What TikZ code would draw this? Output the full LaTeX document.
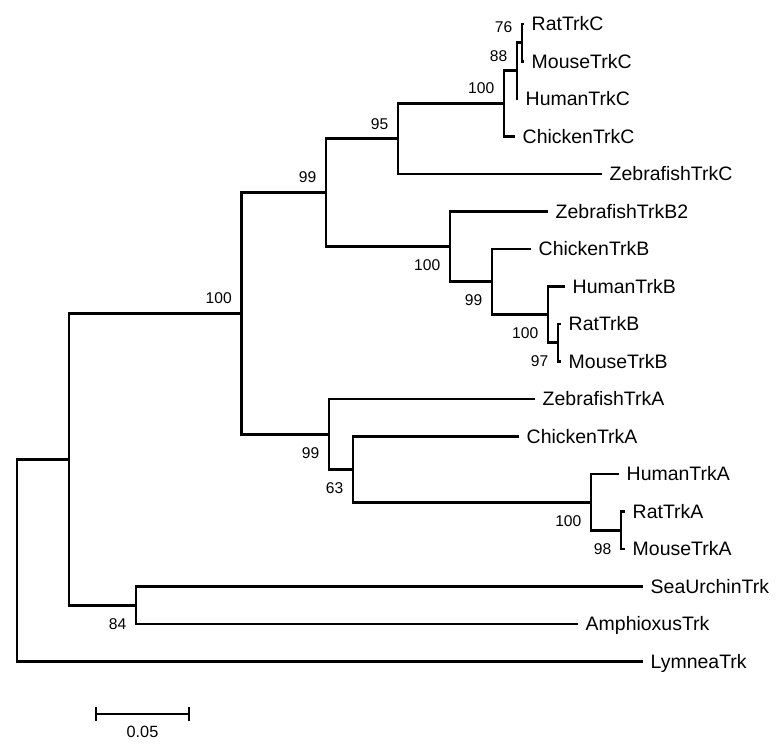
\documentclass[tikz,border=0pt]{standalone}
\usepackage{fontspec}
\setmainfont{Liberation Sans}
\usetikzlibrary{positioning, calc}

\begin{document}
\begin{tikzpicture}[
        x=0.75pt, y=-0.75pt,
        branch/.style={line width=2.2pt},
        scalebar/.style={line width=1.4pt},
        leaf/.style={anchor=base west, inner sep=0pt, xshift=5.6pt, yshift=-5.2pt, font=\fontsize{14.6pt}{17pt}\selectfont},
        bsup/.style={anchor=east, inner sep=0pt, xshift=-7.1pt, yshift=11.4pt, font=\fontsize{11.7pt}{14pt}\selectfont},
        bsdn/.style={anchor=east, inner sep=0pt, xshift=-7.1pt, yshift=-13.9pt, font=\fontsize{11.7pt}{14pt}\selectfont}
    ]
    \path[use as bounding box, fill=white] (0,0) rectangle (780,749);

    \coordinate (tRatC) at (524,24);
    \coordinate (tMouseC) at (524,61.5);
    \coordinate (tHumanC) at (518,99);
    \coordinate (tChickenC) at (515,136.5);
    \coordinate (tZebraC) at (602,174);
    \coordinate (tZebraB2) at (548,211.5);
    \coordinate (tChickenB) at (531,249);
    \coordinate (tHumanB) at (565,286.5);
    \coordinate (tRatB) at (561,324);
    \coordinate (tMouseB) at (561,361.5);
    \coordinate (tZebraA) at (535,399);
    \coordinate (tChickenA) at (519,436.5);
    \coordinate (tHumanA) at (619,474);
    \coordinate (tRatA) at (625,511.5);
    \coordinate (tMouseA) at (625,549);
    \coordinate (tUrchin) at (643,586.5);
    \coordinate (tAmphi) at (578,624);
    \coordinate (tLymnea) at (643,661.5);

    \coordinate (G) at (522,42.75);
    \coordinate (F) at (517,70.88);
    \coordinate (E) at (504,103.69);
    \coordinate (D) at (398,138.84);
    \coordinate (K) at (558,342.75);
    \coordinate (J) at (548,314.63);
    \coordinate (I) at (492,281.81);
    \coordinate (H) at (450,246.66);
    \coordinate (C) at (326,192.75);
    \coordinate (O) at (621,530.25);
    \coordinate (N) at (591,502.13);
    \coordinate (M) at (353,469.31);
    \coordinate (L) at (329,434.16);
    \coordinate (B) at (241.5,313.45);
    \coordinate (SA) at (136,605.25);
    \coordinate (A) at (69,459.35);
    \coordinate (root) at (17,560.43);

    \node[leaf] (ratC) at (tRatC) {RatTrkC};
    \node[leaf] (mouseC) at (tMouseC) {MouseTrkC};
    \node[leaf] (humanC) at (tHumanC) {HumanTrkC};
    \node[leaf] (chickenC) at (tChickenC) {ChickenTrkC};
    \node[leaf] (zebraC) at (tZebraC) {ZebrafishTrkC};
    \node[leaf] (zebraB2) at (tZebraB2) {ZebrafishTrkB2};
    \node[leaf] (chickenB) at (tChickenB) {ChickenTrkB};
    \node[leaf] (humanB) at (tHumanB) {HumanTrkB};
    \node[leaf] (ratB) at (tRatB) {RatTrkB};
    \node[leaf] (mouseB) at (tMouseB) {MouseTrkB};
    \node[leaf] (zebraA) at (tZebraA) {ZebrafishTrkA};
    \node[leaf] (chickenA) at (tChickenA) {ChickenTrkA};
    \node[leaf] (humanA) at (tHumanA) {HumanTrkA};
    \node[leaf] (ratA) at (tRatA) {RatTrkA};
    \node[leaf] (mouseA) at (tMouseA) {MouseTrkA};
    \node[leaf] (urchin) at (tUrchin) {SeaUrchinTrk};
    \node[leaf] (amphi) at (tAmphi) {AmphioxusTrk};
    \node[leaf] (lymnea) at (tLymnea) {LymneaTrk};

    \draw[branch] (tRatC) -| (G) |- (tMouseC);
    \draw[branch] (G) -| (F) |- (tHumanC);
    \draw[branch] (F) -| (E) |- (tChickenC);
    \draw[branch] (E) -| (D) |- (tZebraC);
    \draw[branch] (tRatB) -| (K) |- (tMouseB);
    \draw[branch] (tHumanB) -| (J) |- (K);
    \draw[branch] (tChickenB) -| (I) |- (J);
    \draw[branch] (tZebraB2) -| (H) |- (I);
    \draw[branch] (D) -| (C) |- (H);
    \draw[branch] (tRatA) -| (O) |- (tMouseA);
    \draw[branch] (tHumanA) -| (N) |- (O);
    \draw[branch] (tChickenA) -| (M) |- (N);
    \draw[branch] (tZebraA) -| (L) |- (M);
    \draw[branch] (C) -| (B) |- (L);
    \draw[branch] (tUrchin) -| (SA) |- (tAmphi);
    \draw[branch] (B) -| (A) |- (SA);
    \draw[branch] (A) -| (root) |- (tLymnea);

    \node[bsup] (bsG) at (G) {76};
    \node[bsup] (bsF) at (F) {88};
    \node[bsup] (bsE) at (E) {100};
    \node[bsup] (bsD) at (D) {95};
    \node[bsup] (bsC) at (C) {99};
    \node[bsup] (bsB) at (B) {100};
    \node[bsdn] (bsH) at (H) {100};
    \node[bsdn] (bsI) at (I) {99};
    \node[bsdn] (bsJ) at (J) {100};
    \node[bsdn] (bsK) at (K) {97};
    \node[bsdn] (bsL) at (L) {99};
    \node[bsdn] (bsM) at (M) {63};
    \node[bsdn] (bsN) at (N) {100};
    \node[bsdn] (bsO) at (O) {98};
    \node[bsdn] (bsSA) at (SA) {84};

    \coordinate (sbl) at (96,714);
    \coordinate (sbr) at (189,714);
    \draw[scalebar] (sbl) -- (sbr);
    \draw[scalebar] ([yshift=4.9pt]sbl) -- ([yshift=-4.9pt]sbl);
    \draw[scalebar] ([yshift=4.9pt]sbr) -- ([yshift=-4.9pt]sbr);
    \node[font=\fontsize{12.2pt}{14pt}\selectfont, inner sep=0pt] (sblabel) at (142.5,732) {0.05};
\end{tikzpicture}
\end{document}
